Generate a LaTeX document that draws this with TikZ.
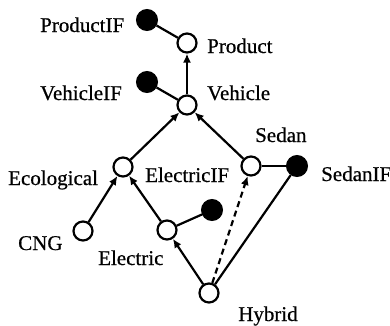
\documentclass[tikz,border=0pt]{standalone}
\usepackage{fontspec}
\setmainfont{Liberation Serif}[BoldFont={Liberation Serif},BoldFeatures={FakeBold=0.6}]
\usetikzlibrary{arrows.meta}
\begin{document}
\begin{tikzpicture}[x=1pt,y=-1pt,
  opn/.style={circle,draw,line width=2.2pt,minimum size=19pt,inner sep=0pt,fill=white},
  fld/.style={circle,draw,line width=2pt,minimum size=20pt,inner sep=0pt,fill=black},
  lbl/.style={font=\fontsize{21}{23}\selectfont\bfseries,inner sep=0pt,anchor=base west},
  edge/.style={line width=2.2pt},
  arr/.style={line width=2.2pt,-{Latex[length=9pt,width=8pt]}}]
\useasboundingbox (0,0) rectangle (390,325);
\node[fld] (pif) at (147,20) {};
\node[opn] (prod) at (187,43) {};
\node[fld] (vif) at (147,82) {};
\node[opn] (veh) at (187,105) {};
\node[opn] (eco) at (123,167) {};
\node[opn] (sed) at (251,166) {};
\node[fld] (sif) at (297,166) {};
\node[fld] (eif) at (212,210) {};
\node[opn] (ele) at (167,230) {};
\node[opn] (cng) at (83,231) {};
\node[opn] (hyb) at (209,293) {};

\node[lbl] (tpif) at (40,32) {ProductIF};
\node[lbl] (tprod) at (207,53) {Product};
\node[lbl] (tvif) at (40,100) {VehicleIF};
\node[lbl] (tveh) at (207,100) {Vehicle};
\node[lbl] (tsed) at (255,142) {Sedan};
\node[lbl] (teco) at (8,185) {Ecological};
\node[lbl] (teif) at (145,182) {ElectricIF};
\node[lbl] (tsif) at (321,181) {SedanIF};
\node[lbl] (tcng) at (18,250) {CNG};
\node[lbl] (tele) at (98,265) {Electric};
\node[lbl] (thyb) at (238,321) {Hybrid};

\draw[edge] (pif) -- (prod);
\draw[arr] (veh) -- (prod);
\draw[edge] (vif) -- (veh);
\draw[arr] (eco) -- (veh);
\draw[arr] (sed) -- (veh);
\draw[arr] (cng) -- (eco);
\draw[arr] (ele) -- (eco);
\draw[edge] (ele) -- (eif);
\draw[arr] (hyb) -- (ele);
\draw[arr,dash pattern=on 6pt off 4pt] (hyb) -- (sed);
\draw[edge] (sed) -- (sif);
\draw[edge] (hyb) -- (sif);
\end{tikzpicture}
\end{document}
